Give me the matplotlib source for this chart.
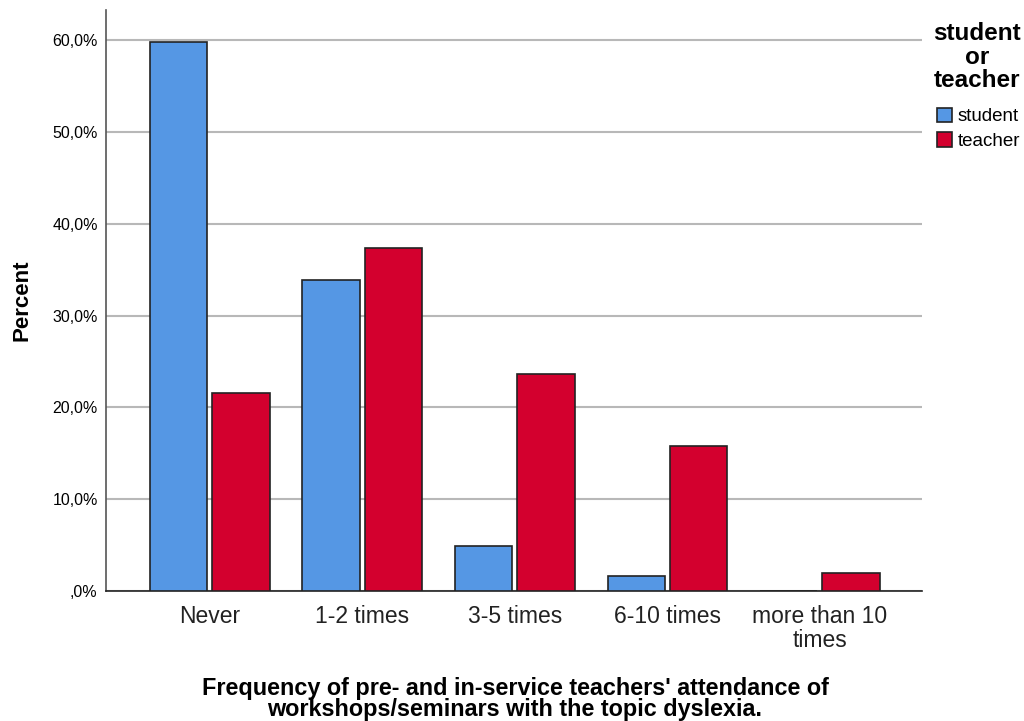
import numpy as np
import matplotlib
matplotlib.use("Agg")
import matplotlib.pyplot as plt
from matplotlib.ticker import FuncFormatter

plt.rcParams["font.family"] = ["Liberation Sans", "DejaVu Sans"]

categories = ["Never", "1-2 times", "3-5 times", "6-10 times", "more than 10\ntimes"]
student = [59.8, 33.9, 4.9, 1.6, 0.0]
teacher = [21.6, 37.4, 23.6, 15.8, 2.0]
yticks = [0, 10, 20, 30, 40, 50, 60]

blue = "#5597E4"
red = "#D3002E"


def pct_fmt(v, pos):
    if v == 0:
        return ",0%"
    return f"{v:.1f}%".replace(".", ",")


fig = plt.figure(figsize=(10.24, 7.21), dpi=100)
ax = fig.add_axes([0.1035, 0.1803, 0.797, 0.806])

x = np.arange(len(categories))
w = 0.375
gap = 0.017
ax.bar(x - w / 2 - gap, student, width=w, color=blue, edgecolor="#222222",
       linewidth=1.2, label="student", zorder=3)
ax.bar(x + w / 2 + gap, teacher, width=w, color=red, edgecolor="#222222",
       linewidth=1.2, label="teacher", zorder=3)

ax.set_xlim(-0.68, 4.67)
ax.set_ylim(0, 63.3)
ax.set_yticks(yticks)
ax.yaxis.set_major_formatter(FuncFormatter(pct_fmt))
ax.set_xticks(x)
ax.set_xticklabels(categories, fontsize=16.5, color="#222222", linespacing=1.05)
ax.tick_params(axis="y", length=0, labelsize=11.5, pad=6)
ax.tick_params(axis="x", length=0, pad=10)
ax.grid(axis="y", color="#b8b8b8", linewidth=1.5, zorder=0)

for s in ["top", "right"]:
    ax.spines[s].set_visible(False)
ax.spines["left"].set_color("#555555")
ax.spines["bottom"].set_color("#222222")
ax.spines["left"].set_linewidth(1.2)
ax.spines["bottom"].set_linewidth(1.2)

ax.set_ylabel("Percent", fontsize=16, fontweight="bold", labelpad=14)

# x axis title, two centred lines under the chart
fig.text(515 / 1024, 1 - 699 / 721,
         "Frequency of pre- and in-service teachers' attendance of\n"
         "workshops/seminars with the topic dyslexia.",
         ha="center", va="center", fontsize=16.8, fontweight="bold",
         linespacing=0.92)

# legend title drawn separately so the gap to the entries can match
fig.text(977 / 1024, 1 - 57 / 721, "student\nor\nteacher", ha="center",
         va="center", fontsize=17.5, fontweight="bold", linespacing=1.05)

leg = ax.legend(loc="upper left", bbox_to_anchor=(933 / 1024, 1 - 104 / 721),
                bbox_transform=fig.transFigure, frameon=False, fontsize=13.5,
                handlelength=0.8, handleheight=0.8, handletextpad=0.3,
                labelspacing=0.36, borderaxespad=0, borderpad=0.2)

fig.savefig("out.png", dpi=100)
